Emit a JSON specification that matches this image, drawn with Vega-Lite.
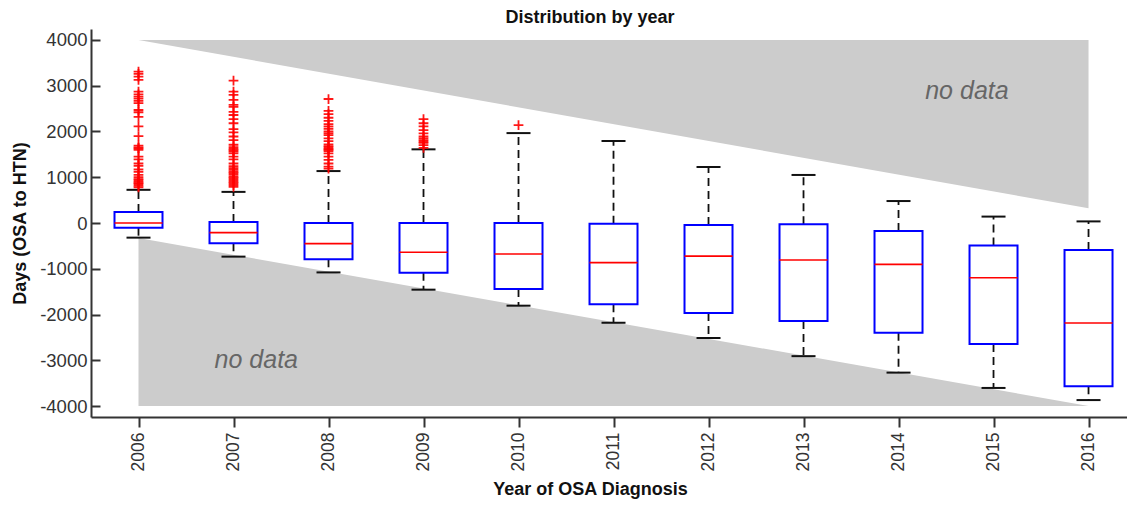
{
  "$schema": "https://vega.github.io/schema/vega-lite/v6.json",
  "width": 1036,
  "height": 388,
  "autosize": "none",
  "padding": {"left": 91, "top": 29, "right": 0, "bottom": 89},
  "title": {"text": "Distribution by year", "fontSize": 18, "fontWeight": "bold", "color": "#111", "anchor": "middle", "dx": -19, "baseline": "alphabetic", "offset": -12, "font": "Liberation Sans"},
  "config": {"view": {"stroke": null}, "font": "Liberation Sans"},
  "datasets": {
    "shade": [
      {"g": "upper", "year": 2006, "days": 4000, "days2": 4000},
      {"g": "upper", "year": 2016, "days": 4000, "days2": 320},
      {"g": "lower", "year": 2006, "days": -330, "days2": -4000},
      {"g": "lower", "year": 2016, "days": -4000, "days2": -4000}
    ],
    "labels": [
      {"year": 2014.72, "days": 2710, "label": "no data"},
      {"year": 2007.24, "days": -3170, "label": "no data"}
    ],
    "boxes": [
      {"year": 2006, "lower": -320, "q1": -102, "median": 0, "q3": 240, "upper": 725},
      {"year": 2007, "lower": -735, "q1": -444, "median": -211, "q3": 20, "upper": 680},
      {"year": 2008, "lower": -1080, "q1": -790, "median": -450, "q3": 0, "upper": 1135},
      {"year": 2009, "lower": -1457, "q1": -1090, "median": -640, "q3": 0, "upper": 1610},
      {"year": 2010, "lower": -1807, "q1": -1443, "median": -678, "q3": 0, "upper": 1965},
      {"year": 2011, "lower": -2179, "q1": -1778, "median": -867, "q3": -15, "upper": 1792},
      {"year": 2012, "lower": -2514, "q1": -1967, "median": -725, "q3": -45, "upper": 1224},
      {"year": 2013, "lower": -2910, "q1": -2140, "median": -810, "q3": -30, "upper": 1050},
      {"year": 2014, "lower": -3270, "q1": -2400, "median": -905, "q3": -175, "upper": 480},
      {"year": 2015, "lower": -3605, "q1": -2645, "median": -1195, "q3": -490, "upper": 140},
      {"year": 2016, "lower": -3870, "q1": -3570, "median": -2185, "q3": -590, "upper": 35}
    ],
    "outliers": [
      {"year": 2006, "days": 3310}, {"year": 2006, "days": 3260}, {"year": 2006, "days": 3200}, {"year": 2006, "days": 3130},
      {"year": 2006, "days": 2870}, {"year": 2006, "days": 2810}, {"year": 2006, "days": 2760}, {"year": 2006, "days": 2720},
      {"year": 2006, "days": 2670}, {"year": 2006, "days": 2620}, {"year": 2006, "days": 2470}, {"year": 2006, "days": 2420},
      {"year": 2006, "days": 2320}, {"year": 2006, "days": 2110}, {"year": 2006, "days": 1900}, {"year": 2006, "days": 1690},
      {"year": 2006, "days": 1650}, {"year": 2006, "days": 1630}, {"year": 2006, "days": 1600}, {"year": 2006, "days": 1450},
      {"year": 2006, "days": 1390}, {"year": 2006, "days": 1300}, {"year": 2006, "days": 1250}, {"year": 2006, "days": 1170},
      {"year": 2006, "days": 1120}, {"year": 2006, "days": 1050}, {"year": 2006, "days": 1000}, {"year": 2006, "days": 960},
      {"year": 2006, "days": 930}, {"year": 2006, "days": 900}, {"year": 2006, "days": 870}, {"year": 2006, "days": 850},
      {"year": 2006, "days": 810}, {"year": 2006, "days": 780},
      {"year": 2007, "days": 3110}, {"year": 2007, "days": 2870}, {"year": 2007, "days": 2800}, {"year": 2007, "days": 2690},
      {"year": 2007, "days": 2580}, {"year": 2007, "days": 2540}, {"year": 2007, "days": 2430}, {"year": 2007, "days": 2360},
      {"year": 2007, "days": 2270}, {"year": 2007, "days": 2180}, {"year": 2007, "days": 2050}, {"year": 2007, "days": 1980},
      {"year": 2007, "days": 1890}, {"year": 2007, "days": 1810}, {"year": 2007, "days": 1710}, {"year": 2007, "days": 1660},
      {"year": 2007, "days": 1620}, {"year": 2007, "days": 1590}, {"year": 2007, "days": 1560}, {"year": 2007, "days": 1520},
      {"year": 2007, "days": 1450}, {"year": 2007, "days": 1390}, {"year": 2007, "days": 1300}, {"year": 2007, "days": 1240},
      {"year": 2007, "days": 1200}, {"year": 2007, "days": 1160}, {"year": 2007, "days": 1120}, {"year": 2007, "days": 1090},
      {"year": 2007, "days": 1050}, {"year": 2007, "days": 1010}, {"year": 2007, "days": 980}, {"year": 2007, "days": 940},
      {"year": 2007, "days": 900}, {"year": 2007, "days": 870}, {"year": 2007, "days": 830}, {"year": 2007, "days": 790},
      {"year": 2008, "days": 2710}, {"year": 2008, "days": 2450}, {"year": 2008, "days": 2380}, {"year": 2008, "days": 2300},
      {"year": 2008, "days": 2230}, {"year": 2008, "days": 2160}, {"year": 2008, "days": 2110}, {"year": 2008, "days": 2060},
      {"year": 2008, "days": 2000}, {"year": 2008, "days": 1960}, {"year": 2008, "days": 1920}, {"year": 2008, "days": 1850},
      {"year": 2008, "days": 1790}, {"year": 2008, "days": 1720}, {"year": 2008, "days": 1680}, {"year": 2008, "days": 1650},
      {"year": 2008, "days": 1620}, {"year": 2008, "days": 1600}, {"year": 2008, "days": 1570}, {"year": 2008, "days": 1520},
      {"year": 2008, "days": 1450}, {"year": 2008, "days": 1380}, {"year": 2008, "days": 1300}, {"year": 2008, "days": 1230},
      {"year": 2008, "days": 1190},
      {"year": 2009, "days": 2270}, {"year": 2009, "days": 2180}, {"year": 2009, "days": 2110}, {"year": 2009, "days": 2030},
      {"year": 2009, "days": 1960}, {"year": 2009, "days": 1890}, {"year": 2009, "days": 1850}, {"year": 2009, "days": 1810},
      {"year": 2009, "days": 1780}, {"year": 2009, "days": 1750}, {"year": 2009, "days": 1700}, {"year": 2009, "days": 1640},
      {"year": 2010, "days": 2140}
    ]
  },
  "layer": [
    {
      "data": {"name": "shade"},
      "mark": {"type": "area", "color": "#cccccc", "opacity": 1},
      "encoding": {
        "x": {"field": "year", "type": "quantitative", "title": "Year of OSA Diagnosis",
          "scale": {"domain": [2005.5, 2016.405], "nice": false, "zero": false, "padding": 0},
          "axis": {"values": [2006, 2007, 2008, 2009, 2010, 2011, 2012, 2013, 2014, 2015, 2016], "format": "d",
            "labelAngle": -90, "tickSize": 10, "labelPadding": 5, "labelFontSize": 17.5, "labelColor": "#333",
            "domainColor": "#333", "domainWidth": 2, "tickColor": "#333", "tickWidth": 2, "grid": false,
            "titleFontSize": 18, "titleFontWeight": "bold", "titleColor": "#111",
            "titleX": 499, "titleY": 77, "titleBaseline": "alphabetic", "titleAlign": "center"}},
        "y": {"field": "days", "type": "quantitative", "title": "Days (OSA to HTN)",
          "scale": {"domain": [-4240, 4240], "nice": false, "zero": false, "padding": 0},
          "axis": {"values": [-4000, -3000, -2000, -1000, 0, 1000, 2000, 3000, 4000], "labelExpr": "'' + datum.value",
            "tickSize": -9, "labelPadding": 13, "labelFontSize": 18.5, "labelColor": "#333",
            "domainColor": "#333", "domainWidth": 2, "tickColor": "#333", "tickWidth": 2, "grid": false,
            "titleFontSize": 18, "titleFontWeight": "bold", "titleColor": "#111",
            "titleX": -71, "titleY": 194, "titleAngle": -90, "titleBaseline": "middle", "titleAlign": "center"}},
        "y2": {"field": "days2"},
        "detail": {"field": "g"}
      }
    },
    {
      "mark": {"type": "rule", "color": "#bbbbbb", "strokeWidth": 1.5, "strokeDash": [8, 6]},
      "encoding": {"y": {"datum": 0}}
    },
    {
      "data": {"name": "labels"},
      "mark": {"type": "text", "fontSize": 25, "fontStyle": "italic", "color": "#666666", "align": "center", "baseline": "alphabetic"},
      "encoding": {
        "x": {"field": "year", "type": "quantitative", "title": "Year of OSA Diagnosis"},
        "y": {"field": "days", "type": "quantitative", "title": "Days (OSA to HTN)"},
        "text": {"field": "label"}
      }
    },
    {
      "data": {"name": "boxes"},
      "mark": {"type": "rule", "color": "#111", "strokeWidth": 1.8, "strokeDash": [8, 5]},
      "encoding": {
        "x": {"field": "year", "type": "quantitative", "title": "Year of OSA Diagnosis"},
        "y": {"field": "q3", "type": "quantitative", "title": "Days (OSA to HTN)"},
        "y2": {"field": "upper"}
      }
    },
    {
      "data": {"name": "boxes"},
      "mark": {"type": "rule", "color": "#111", "strokeWidth": 1.8, "strokeDash": [8, 5]},
      "encoding": {
        "x": {"field": "year", "type": "quantitative", "title": "Year of OSA Diagnosis"},
        "y": {"field": "q1", "type": "quantitative", "title": "Days (OSA to HTN)"},
        "y2": {"field": "lower"}
      }
    },
    {
      "data": {"name": "boxes"},
      "mark": {"type": "tick", "orient": "horizontal", "size": 24, "thickness": 2, "color": "#111", "opacity": 1},
      "encoding": {
        "x": {"field": "year", "type": "quantitative", "title": "Year of OSA Diagnosis"},
        "y": {"field": "upper", "type": "quantitative", "title": "Days (OSA to HTN)"}
      }
    },
    {
      "data": {"name": "boxes"},
      "mark": {"type": "tick", "orient": "horizontal", "size": 24, "thickness": 2, "color": "#111", "opacity": 1},
      "encoding": {
        "x": {"field": "year", "type": "quantitative", "title": "Year of OSA Diagnosis"},
        "y": {"field": "lower", "type": "quantitative", "title": "Days (OSA to HTN)"}
      }
    },
    {
      "data": {"name": "boxes"},
      "mark": {"type": "bar", "size": 48, "fill": "white", "fillOpacity": 0, "stroke": "#0000ff", "strokeWidth": 2},
      "encoding": {
        "x": {"field": "year", "type": "quantitative", "title": "Year of OSA Diagnosis"},
        "y": {"field": "q1", "type": "quantitative", "title": "Days (OSA to HTN)"},
        "y2": {"field": "q3"}
      }
    },
    {
      "data": {"name": "boxes"},
      "mark": {"type": "tick", "orient": "horizontal", "size": 48, "thickness": 1.6, "color": "#ff0000", "opacity": 1},
      "encoding": {
        "x": {"field": "year", "type": "quantitative", "title": "Year of OSA Diagnosis"},
        "y": {"field": "median", "type": "quantitative", "title": "Days (OSA to HTN)"}
      }
    },
    {
      "data": {"name": "outliers"},
      "mark": {"type": "point", "shape": "M-1,0L1,0M0,-1L0,1", "filled": false, "stroke": "#ff0000", "strokeWidth": 1.8, "size": 95, "opacity": 0.9},
      "encoding": {
        "x": {"field": "year", "type": "quantitative", "title": "Year of OSA Diagnosis"},
        "y": {"field": "days", "type": "quantitative", "title": "Days (OSA to HTN)"}
      }
    },
    {
      "mark": {"type": "rule", "color": "#333", "strokeWidth": 2.5},
      "encoding": {"y": {"datum": 4240}}
    }
  ]
}
